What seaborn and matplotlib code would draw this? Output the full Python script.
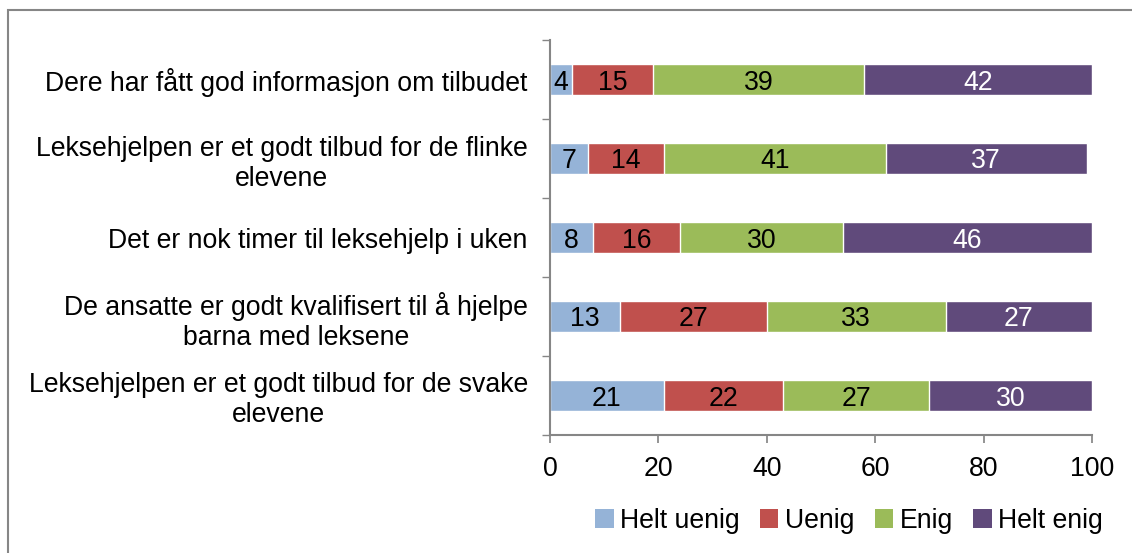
import numpy as np
import pandas as pd
import matplotlib
matplotlib.use("Agg")
import matplotlib.pyplot as plt
import seaborn as sns
from matplotlib.patches import Patch, Rectangle

# survey statements (top to bottom) and answer shares in percent
statements = [
    "Dere har fått god informasjon om tilbudet",
    "Leksehjelpen er et godt tilbud for de flinke\nelevene",
    "Det er nok timer til leksehjelp i uken",
    "De ansatte er godt kvalifisert til å hjelpe\nbarna med leksene",
    "Leksehjelpen er et godt tilbud for de svake\nelevene",
]
answers = ["Helt uenig", "Uenig", "Enig", "Helt enig"]
helt_uenig = [4, 7, 8, 13, 21]
uenig = [15, 14, 16, 27, 22]
enig = [39, 41, 30, 33, 27]
helt_enig = [42, 37, 46, 27, 30]

colors = ["#95B3D7", "#C0504D", "#9BBB59", "#604A7B"]
text_colors = ["black", "black", "black", "white"]

df = pd.DataFrame({"statement": statements, "Helt uenig": helt_uenig,
                   "Uenig": uenig, "Enig": enig, "Helt enig": helt_enig})
cum = df[answers].cumsum(axis=1)

sns.set_theme(style="white")
plt.rcParams["font.family"] = ["Liberation Sans", "DejaVu Sans"]
FS = 19.2
GRAY = "#868686"

fig = plt.figure(figsize=(11.32, 5.53), dpi=100)
ax = fig.add_axes([550 / 1132, 1 - 435 / 553, 542 / 1132, 395 / 553])

# stacked bars: draw cumulative totals from the widest down
for i in reversed(range(len(answers))):
    sns.barplot(x=cum[answers[i]], y=df["statement"], color=colors[i],
                saturation=1, width=0.4, orient="h", ax=ax)

# segment labels in the middle of each visible piece
for i, a in enumerate(answers):
    left = cum[a] - df[a]
    for j, (l, v) in enumerate(zip(left, df[a])):
        ax.text(l + v / 2, j, str(v), ha="center", va="center_baseline",
                fontsize=FS, color=text_colors[i])

ax.set_xlim(0, 100)
ax.set_ylim(4.5, -0.5)
ax.set_xlabel("")
ax.set_ylabel("")
ax.set_xticks(np.arange(0, 101, 20))
ax.tick_params(axis="x", labelsize=FS, length=6, color=GRAY, direction="out",
               bottom=True, pad=9, labelcolor="black")
ax.tick_params(axis="y", which="major", labelsize=FS, length=0, pad=16,
               labelcolor="black")
ax.set_yticks(np.arange(-0.5, 5, 1), minor=True)
ax.tick_params(axis="y", which="minor", length=6, color=GRAY, left=True,
               direction="out")
for lab in ax.get_yticklabels():
    lab.set_multialignment("center")
    lab.set_linespacing(1.2)

sns.despine(ax=ax, top=True, right=True)
for s in ["left", "bottom"]:
    ax.spines[s].set_color(GRAY)
    ax.spines[s].set_linewidth(1.5)

handles = [Patch(facecolor=c, edgecolor="none") for c in colors]
fig.legend(handles, answers, loc="center", bbox_to_anchor=(0.750, 1 - 521 / 553),
           ncol=4, frameon=False, fontsize=FS, handlelength=0.7,
           handleheight=0.7, handletextpad=0.25, columnspacing=0.75,
           labelcolor="black")

# outer chart frame (clipped at right and bottom like the reference)
fig.patches.append(Rectangle((8 / 1132, -0.05), 1.1, 1.05 - 10 / 553,
                             transform=fig.transFigure, fill=False,
                             edgecolor=GRAY, linewidth=1.5))

fig.savefig("out.png", dpi=100)
